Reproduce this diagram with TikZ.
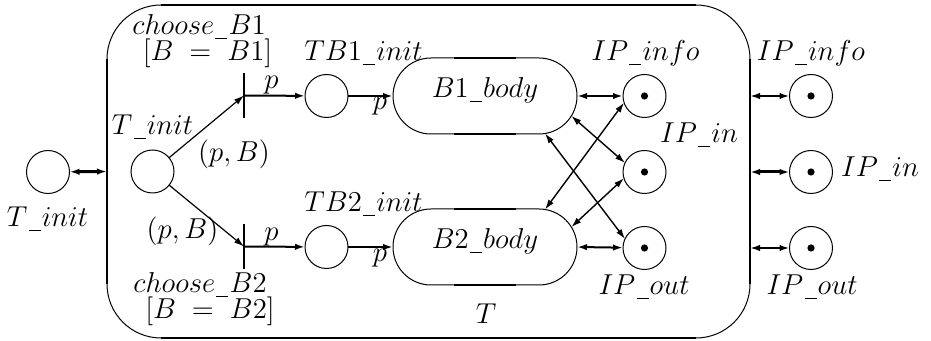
\documentclass[tikz,border=0pt]{standalone}
\usetikzlibrary{arrows.meta,shapes.misc}
% lowered underscore used inside identifiers
\newcommand{\us}{\kern0.6pt\rule[-2.2pt]{6pt}{0.6pt}\kern0.6pt}
\begin{document}
\begin{tikzpicture}[x=0.5pt,y=-0.5pt,
  txt/.style={font=\fontsize{14.4}{17}\selectfont},
  lbl/.style={txt, inner sep=0pt, anchor=base},
  place/.style={circle, draw, line width=0.5pt, minimum size=21.5pt, inner sep=0pt, outer sep=0pt},
  trans/.style={fill, minimum width=1.1pt, minimum height=22.5pt, inner sep=0pt, outer sep=0pt},
  body/.style={rounded rectangle, draw, line width=0.5pt, minimum width=68pt, minimum height=38pt,
    inner xsep=-12pt, inner ysep=0pt, outer sep=0pt, txt, text height=6pt, text depth=4pt},
  heavy/.style={line width=1.3pt},
  tipone/.style={-{Latex[length=5pt,width=3.2pt]}},
  tiptwo/.style={{Latex[length=5pt,width=3.2pt]}-{Latex[length=5pt,width=3.2pt]}},
  token/.style={fill, radius=1.8pt}]
\useasboundingbox (0,0) rectangle (931,341);

% module frame T: thin rounded outline, heavy straight sides
\node[draw, line width=0.5pt, rounded corners=27pt, minimum width=321.5pt, minimum height=166.5pt,
  inner sep=0pt, outer sep=0pt] (frame) at (428.5,171.5) {};
\draw[heavy] ([xshift=27pt]frame.north west) -- ([xshift=-27pt]frame.north east);
\draw[heavy] ([xshift=27pt]frame.south west) -- ([xshift=-27pt]frame.south east);
\draw[heavy] ([yshift=-27pt]frame.north west) -- ([yshift=27pt]frame.south west);
\draw[heavy] ([yshift=-27pt]frame.north east) -- ([yshift=27pt]frame.south east);
\node[lbl] (labT) at (486,324) {$T$};

% places
\node[place] (tinitO) at (48,172) {};
\node[place] (tinit) at (152.5,171.5) {};
\node[place] (tb1) at (326.5,96) {};
\node[place] (tb2) at (326.5,247) {};
\node[place] (ipa) at (644.5,96) {};
\node[place] (ipb) at (644.5,172) {};
\node[place] (ipc) at (644.5,248) {};
\node[place] (opa) at (811,96) {};
\node[place] (opb) at (811,172) {};
\node[place] (opc) at (811,248) {};
\foreach \p in {ipa,ipb,ipc,opa,opb,opc} \fill[token] (\p.center) circle;

% transitions
\node[trans] (c1) at (244,95.5) {};
\node[trans] (c2) at (244,246.5) {};

% substructure bodies
\node[body] (B1) at (485,96) {$B1\us body$};
\node[body] (B2) at (485,247) {$B2\us body$};
\foreach \b in {B1,B2} {
  \draw[heavy] ([xshift=-15.5pt]\b.north) -- ([xshift=15.5pt]\b.north);
  \draw[heavy] ([xshift=-15.5pt]\b.south) -- ([xshift=15.5pt]\b.south);
}

% labels
\node[lbl] (lTiO) at (47.5,227) {$T\us init$};
\node[lbl] (lTi) at (152.5,135) {$T\us init$};
\node[lbl] (lc1) at (199,35) {$choose\us B1$};
\node[lbl] (lg1) at (207.5,61) {$[B\;=\;B1]$};
\node[lbl] (lc2) at (200,293) {$choose\us B2$};
\node[lbl] (lg2) at (210,319) {$[B\;=\;B2]$};
\node[lbl] (lpb1) at (234,162) {$(p,B)$};
\node[lbl] (lpb2) at (182.5,239) {$(p,B)$};
\node[lbl] (lp1) at (271.5,89) {$p$};
\node[lbl] (lp2) at (271.5,241) {$p$};
\node[lbl] (lp3) at (380,110) {$p$};
\node[lbl] (lp4) at (380,262) {$p$};
\node[lbl] (ltb1) at (363.5,61) {$TB1\us init$};
\node[lbl] (ltb2) at (363.5,212) {$TB2\us init$};
\node[lbl] (lipa) at (645.5,61) {$IP\us info$};
\node[lbl] (lopa) at (811,61) {$IP\us info$};
\node[lbl] (lipb) at (699,143) {$IP\us in$};
\node[lbl] (lopb) at (880,177) {$IP\us in$};
\node[lbl] (lipc) at (644,295) {$IP\us out$};
\node[lbl] (lopc) at (812,295) {$IP\us out$};

% arcs
\draw[tiptwo, line width=1.5pt] (tinitO) -- (frame.west);
\draw[tipone, line width=0.6pt] (tinit) -- (c1.center);
\draw[tipone, line width=0.6pt] (tinit) -- (c2.center);
\draw[tipone, line width=1pt] (c1.center) -- (tb1);
\draw[tipone, line width=1pt] (c2.center) -- (tb2);
\draw[tipone, line width=1pt] (tb1) -- (B1);
\draw[tipone, line width=1pt] (tb2) -- (B2);

\draw[tiptwo, line width=1pt] (B1.east) -- (ipa);
\draw[tiptwo, line width=0.7pt] (B1.-13) -- (ipb.155);
\draw[tiptwo, line width=0.7pt] (B1.-32) -- (ipc.155);
\draw[tiptwo, line width=0.7pt] (B2.32) -- (ipa.-162);
\draw[tiptwo, line width=0.7pt] (B2.13) -- (ipb.-163);
\draw[tiptwo, line width=1pt] (B2.east) -- (ipc);

\draw[tiptwo, line width=0.9pt] (frame.east |- opa) -- (opa);
\draw[tiptwo, line width=1.5pt] (frame.east |- opb) -- (opb);
\draw[tiptwo, line width=0.9pt] (frame.east |- opc) -- (opc);
\end{tikzpicture}
\end{document}
